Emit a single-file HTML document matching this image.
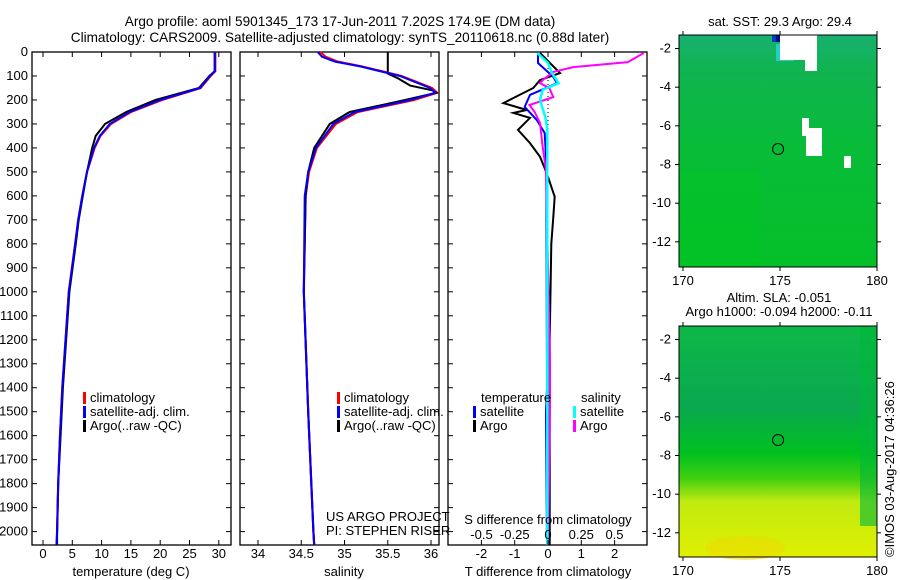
<!DOCTYPE html>
<html><head><meta charset="utf-8"><style>
html,body{margin:0;padding:0;background:#fff}
svg{display:block;font-family:"Liberation Sans",sans-serif;font-size:13px}
</style></head><body>
<svg id="fig" width="900" height="580" viewBox="0 0 900 580">
<defs>
<linearGradient id="slaGrad" x1="0" y1="0" x2="0" y2="1">
<stop offset="0" stop-color="#0cb848"/><stop offset="0.35" stop-color="#0aa850"/>
<stop offset="0.55" stop-color="#00c020"/><stop offset="0.66" stop-color="#40d010"/>
<stop offset="0.76" stop-color="#c0ea10"/><stop offset="1" stop-color="#e0f000"/>
</linearGradient>
<linearGradient id="sstGrad" x1="0" y1="0" x2="0" y2="1">
<stop offset="0" stop-color="#18b070"/><stop offset="0.15" stop-color="#10b450"/>
<stop offset="0.5" stop-color="#08bc38"/><stop offset="1" stop-color="#04c028"/>
</linearGradient>
</defs>
<text x="340" y="26" text-anchor="middle" font-size="13.6">Argo profile: aoml 5901345_173 17-Jun-2011 7.202S 174.9E (DM data)</text>
<text x="340" y="42" text-anchor="middle" font-size="13.6">Climatology: CARS2009. Satellite-adjusted climatology: synTS_20110618.nc (0.88d later)</text>
<g id="g"></g>
</svg>
<script>
// depth axis
const depthTicks=[0,100,200,300,400,500,600,700,800,900,1000,1100,1200,1300,1400,1500,1600,1700,1800,1900,2000];
// temperature panel
const tDepth=[0,80,100,150,200,250,300,350,400,500,600,700,800,1000,1400,1600,1800,2000,2055];
const tClim=[29.4,29.4,28.6,26.9,20.3,15.0,11.6,9.8,8.8,7.5,6.7,6.0,5.5,4.4,3.3,2.9,2.6,2.4,2.3];
const tSat=[29.3,29.3,28.5,26.8,20.0,14.8,11.4,9.7,8.7,7.5,6.7,6.0,5.5,4.4,3.3,2.9,2.6,2.4,2.3];
const tArgo=[29.3,29.3,28.4,26.6,19.2,14.2,10.6,9.0,8.4,7.5,6.8,6.1,5.6,4.5,3.4,3.0,2.6,2.4,2.4];
const tTicks=[0,5,10,15,20,25,30];
// salinity panel
const sDepth=[0,20,40,60,100,150,170,200,250,300,400,500,600,1000,1500,2000,2055];
const sClim=[34.72,34.78,34.92,35.2,35.66,36.01,36.07,35.8,35.15,34.9,34.68,34.59,34.55,34.53,34.58,34.64,34.65];
const sSat=[34.69,34.74,34.89,35.18,35.64,35.99,36.05,35.76,35.12,34.87,34.67,34.58,34.54,34.53,34.58,34.64,34.65];
const aDepth=[0,90,110,140,160,170,200,250,300,400,500,600,1000,1500,2000,2055];
const sArgo=[35.5,35.5,35.62,35.76,36.02,36.06,35.7,35.06,34.83,34.65,34.58,34.55,34.53,34.58,34.64,34.65];
const sTicks=[34,34.5,35,35.5,36];
// difference panel
const dtaDepth=[4,88,117,150,192,213,242,254,275,325,380,437,505,604,688,800,1200,2055];
const dtArgo=[-0.24,0.36,-0.24,-0.44,-1.04,-1.34,-0.64,-1.04,-0.54,-0.9,-0.54,-0.24,-0.04,0.2,0.16,0.1,0.05,0.05];
const dtsDepth=[4,46,104,130,179,229,283,338,463,1400,1500,2055];
const dtSat=[-0.3,-0.3,0.16,0.27,-0.54,-0.7,-0.34,-0.1,-0.05,-0.03,-0.06,-0.03];
const dsaDepth=[4,42,63,83,117,130,150,188,221,250,296,396,492,1300,1450,2055];
const dsArgo=[0.72,0.6,0.19,0.04,-0.04,-0.06,0.01,0.04,-0.14,-0.1,-0.06,-0.04,-0.015,0.015,0.015,0.0];
const dssDepth=[4,46,88,130,158,200,271,325,600,2055];
const dsSat=[-0.08,0,0.03,0.08,-0.04,-0.06,-0.02,-0.005,-0.005,-0.005];
const dTTicks=[-2,-1,0,1,2];
const dSTicks=[-0.5,-0.25,0,0.25,0.5];
const dSLabels=["-0.5","-0.25","0","0.25","0.5"];
// maps
const lonTicks=[170,175,180];
const latTicks=[-2,-4,-6,-8,-10,-12];
const argoLon=[174.9], argoLat=[-7.2];

const NS="http://www.w3.org/2000/svg";
const G=document.getElementById('g');
function el(tag,attrs,parent,text){const e=document.createElementNS(NS,tag);for(const k in attrs)e.setAttribute(k,attrs[k]);if(text!==undefined)e.textContent=text;(parent||G).appendChild(e);return e;}
const top0=52,bot=545;
const yD=d=>top0+d*0.2398;
const xT=v=>43+v*5.86;
const xS=v=>258+(v-34)*86.5;
const xDT=v=>548+v*33.3;
const xDS=v=>548+v*133;

function frame(x0,x1,name){
  const r=el('rect',{x:x0,y:top0,width:x1-x0,height:bot-top0,fill:'none',stroke:'#000','stroke-width':1.3});
  
  
  depthTicks.forEach(d=>{
    el('line',{x1:x0,x2:x0+5,y1:yD(d),y2:yD(d),stroke:'#000'});
    el('line',{x1:x1-5,x2:x1,y1:yD(d),y2:yD(d),stroke:'#000'});
  });
}
function line(xs,ds,fx,color,name,w){
  const p=xs.map((v,i)=>fx(v).toFixed(1)+','+yD(ds[i]).toFixed(1)).join(' ');
  const l=el('polyline',{points:p,fill:'none',stroke:color,'stroke-width':w||2});
  
  
}
function xticks(ticks,fx,labels,ly,name){
  ticks.forEach((t,i)=>{
    el('line',{x1:fx(t),x2:fx(t),y1:bot,y2:bot-5,stroke:'#000'});
    el('line',{x1:fx(t),x2:fx(t),y1:top0,y2:top0+5,stroke:'#000'});
    const tx=el('text',{x:fx(t),y:ly,'text-anchor':'middle'},G,labels?labels[i]:String(t));
    
    
  });
}
function legend(items,x,y,name){
  items.forEach((it,i)=>{
    el('rect',{x:x,y:y+i*14-10,width:3,height:12,fill:it[1]});
    const t=el('text',{x:x+7,y:y+i*14},G,it[0]);
    
    
  });
}
// depth labels
depthTicks.forEach(d=>{
  const t=el('text',{x:28,y:yD(d)+4,'text-anchor':'end'},G,String(d));
  
  
});
// panel 1
frame(32,231,'temperature-panel');
line(tClim,tDepth,xT,'#f00','temperature-climatology-line',2.2);
line(tArgo,tDepth,xT,'#000','temperature-argo-line',2);
line(tSat,tDepth,xT,'#00f','temperature-satellite-line',2);
xticks(tTicks,xT,null,558,'temperature-tick-label');
el('text',{x:131,y:576,'text-anchor':'middle',},G,'temperature (deg C)');
legend([['climatology','#f00'],['satellite-adj. clim.','#00f'],['Argo(..raw -QC)','#000']],83,402,'temperature-legend-entry');
// panel 2
frame(240,439,'salinity-panel');
line(sClim,sDepth,xS,'#f00','salinity-climatology-line',2.2);
line(sArgo,aDepth,xS,'#000','salinity-argo-line',2);
line(sSat,sDepth,xS,'#00f','salinity-satellite-line',2);
xticks(sTicks,xS,null,558,'salinity-tick-label');
el('text',{x:344,y:576,'text-anchor':'middle',},G,'salinity');
legend([['climatology','#f00'],['satellite-adj. clim.','#00f'],['Argo(..raw -QC)','#000']],337,402,'salinity-legend-entry');
el('text',{x:326,y:521,},G,'US ARGO PROJECT');
el('text',{x:326,y:535,},G,'PI: STEPHEN RISER');
// panel 3
frame(448,647,'difference-panel');
el('line',{x1:548,x2:548,y1:top0,y2:bot,stroke:'#000','stroke-dasharray':'1,3',});
line(dtArgo,dtaDepth,xDT,'#000','t-diff-argo-line',2);
line(dtSat,dtsDepth,xDT,'#00f','t-diff-satellite-line',2);
line(dsArgo,dsaDepth,xDS,'#f0f','s-diff-argo-line',2);
line(dsSat,dssDepth,xDS,'#0ff','s-diff-satellite-line',2.5);
xticks(dTTicks,xDT,null,558,'t-diff-tick-label');
dSTicks.forEach((t,i)=>{
  const tx=el('text',{x:xDS(t),y:539,'text-anchor':'middle'},G,dSLabels[i]);
  
  
});
el('text',{x:548,y:524,'text-anchor':'middle',},G,'S difference from climatology');
el('text',{x:548,y:576,'text-anchor':'middle',},G,'T difference from climatology');
el('text',{x:481,y:402,},G,'temperature');
el('text',{x:581,y:402,},G,'salinity');
legend([['satellite','#00f'],['Argo','#000']],473,416,'t-diff-legend-entry');
legend([['satellite','#0ff'],['Argo','#f0f']],573,416,'s-diff-legend-entry');
// maps
const mx0=679,mx1=877;
const xL=lon=>683+(lon-170)*19.4;
function map(y0,y1,latTop,fill,name){
  const yLat=lat=>y0+(latTop-lat)*19.33;
  const r=el('rect',{x:mx0,y:y0,width:mx1-mx0,height:y1-y0,fill:fill});
  
  
  return yLat;
}
function mapAxes(y0,y1,yLat,labY,prefix){
  el('rect',{x:mx0,y:y0,width:mx1-mx0,height:y1-y0,fill:'none',stroke:'#000'});
  latTicks.forEach(l=>{
    el('line',{x1:mx0-4,x2:mx0,y1:yLat(l),y2:yLat(l),stroke:'#000'});
    el('line',{x1:mx1,x2:mx1+4,y1:yLat(l),y2:yLat(l),stroke:'#000'});
    const t=el('text',{x:mx0-8,y:yLat(l)+4,'text-anchor':'end'},G,String(l));
    
    
  });
  lonTicks.forEach(l=>{
    el('line',{x1:xL(l),x2:xL(l),y1:y1,y2:y1+4,stroke:'#000'});
    el('line',{x1:xL(l),x2:xL(l),y1:y0-4,y2:y0,stroke:'#000'});
    const t=el('text',{x:xL(l),y:labY,'text-anchor':'middle'},G,String(l));
    
    
  });
  argoLon.forEach((lo,i)=>{
    const c=el('circle',{cx:xL(lo),cy:yLat(argoLat[i]),r:5.5,fill:'none',stroke:'#000'});
    
    
  });
}
// SST map
const y1a=map(35,267,-1.3,'url(#sstGrad)','sst-map');
el('rect',{x:679,y:170,width:80,height:97,fill:'#00c820',opacity:0.35});
el('rect',{x:775,y:35,width:12,height:7,fill:'#001080'});
el('rect',{x:772,y:35,width:4,height:7,fill:'#0040c0'});
el('rect',{x:776,y:44,width:18,height:17,fill:'#20d0c0'});
el('rect',{x:780,y:35,width:32,height:25,fill:'#fff'});
el('rect',{x:805,y:35,width:12,height:36,fill:'#fff'});
el('rect',{x:802,y:118,width:7,height:18,fill:'#fff'});
el('rect',{x:806,y:128,width:16,height:28,fill:'#fff'});
el('rect',{x:844,y:156,width:7,height:12,fill:'#fff'});
mapAxes(35,267,y1a,285,'sst');
el('text',{x:780,y:26,'text-anchor':'middle',},G,'sat. SST: 29.3 Argo: 29.4');
// SLA map
const y2a=map(326,557,-1.3,'url(#slaGrad)','sla-map');
el('ellipse',{cx:745,cy:548,rx:40,ry:12,fill:'#f0d800',opacity:0.5});
el('rect',{x:860,y:326,width:17,height:200,fill:'#00b838',opacity:0.6});
mapAxes(326,557,y2a,575,'sla');
el('text',{x:779,y:302,'text-anchor':'middle',},G,'Altim. SLA: -0.051');
el('text',{x:779,y:316,'text-anchor':'middle',},G,'Argo h1000: -0.094 h2000: -0.11');
el('text',{x:0,y:0,transform:'translate(894,557) rotate(-90)',},G,'©IMOS 03-Aug-2017 04:36:26');
</script>
</body></html>
